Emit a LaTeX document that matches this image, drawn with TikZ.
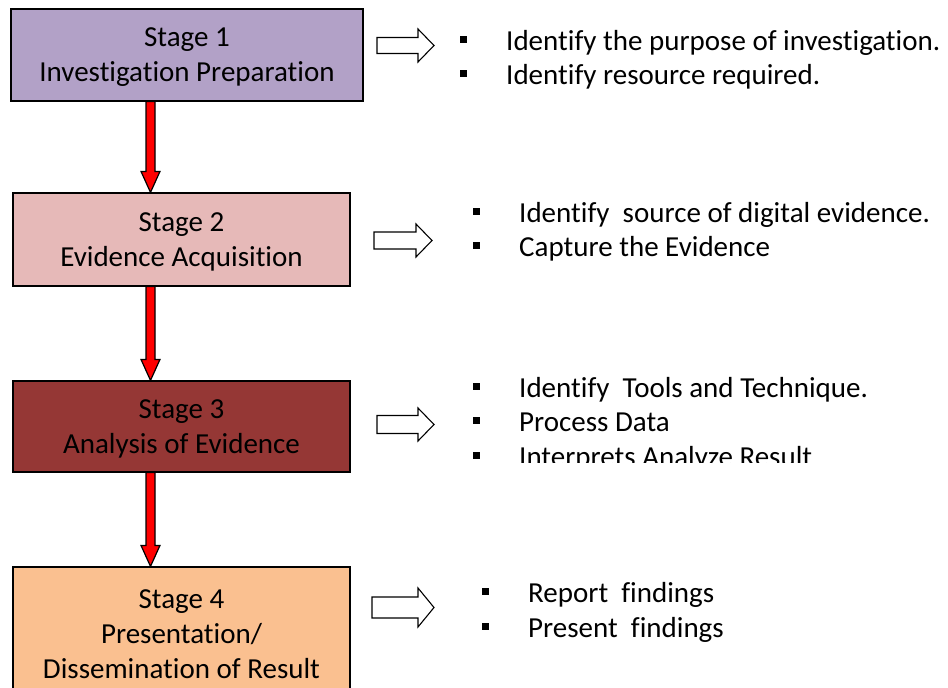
\documentclass[tikz,border=0pt]{standalone}
\usepackage{fontspec}
\setmainfont{Carlito}[RawFeature={-liga;-clig;-calt;-dlig}]
\usetikzlibrary{calc}

\definecolor{prepfill}{HTML}{B2A1C7}
\definecolor{acqfill}{HTML}{E6B9B8}
\definecolor{anafill}{HTML}{953735}
\definecolor{presfill}{HTML}{FAC090}

% square list marker hung to the left of each item
\newcommand{\itemmark}{\llap{\rule[7.5pt]{7pt}{7pt}\hspace{39pt}}}

\begin{document}
\begin{tikzpicture}[x=1pt,y=-1pt,
  stagebox/.style={draw=black, line width=1.2pt, align=center, inner sep=0pt,
    text depth=0pt, font=\fontsize{29}{35}\selectfont},
  listitem/.style={anchor=base west, inner sep=0pt,
    font=\fontsize{29}{35}\selectfont},
  % thick red block arrow between stages
  flowarrow/.style={draw=black, fill=red, line width=1.2pt, line join=miter,
    to path={let \p1=(\tikztostart), \p2=(\tikztotarget) in
      (\x1-4.5pt,\y1) -- (\x1-4.5pt,\y2+21pt) -- (\x1-9.5pt,\y2+21pt) -- (\x1,\y2)
      -- (\x1+9.5pt,\y2+21pt) -- (\x1+4.5pt,\y2+21pt) -- (\x1+4.5pt,\y1) -- cycle}},
  % hollow block arrow pointing to the task lists
  shaft half/.store in=\shafthalf, head half/.store in=\headhalf,
  shaft half=8pt, head half=16.5pt,
  hollowarrow/.style={draw=black, fill=white, line width=1.1pt, line join=miter,
    to path={let \p1=(\tikztostart), \p2=(\tikztotarget) in
      (\x1,\y1+\shafthalf) -- (\x2-16pt,\y1+\shafthalf) -- (\x2-16pt,\y1+\headhalf) -- (\x2,\y1)
      -- (\x2-16pt,\y1-\headhalf) -- (\x2-16pt,\y1-\shafthalf) -- (\x1,\y1-\shafthalf) -- cycle}},
]
\useasboundingbox (0,0) rectangle (948,688);
\clip (0,0) rectangle (948,688);

% stage boxes
\node[stagebox, fill=prepfill, minimum width=352pt, minimum height=92pt] (b1) at (187,55)
  {Stage 1\\Investigation Preparation};
\node[stagebox, fill=acqfill, minimum width=337pt, minimum height=93pt] (b2) at (181.5,239.5)
  {Stage 2\\Evidence Acquisition};
\node[stagebox, fill=anafill, minimum width=337pt, minimum height=91pt] (b3) at (181.5,426.5)
  {Stage 3\\Analysis of Evidence};
\node[stagebox, fill=presfill, minimum width=337pt, minimum height=134pt] (b4) at (181.5,634)
  {Stage 4\\Presentation/\\Dissemination of Result};

% red flow arrows
\coordinate (ax) at (150.5,0);
\draw[flowarrow] (b1.south -| ax) to (b2.north -| ax);
\draw[flowarrow] (b2.south -| ax) to (b3.north -| ax);
\draw[flowarrow] (b3.south -| ax) to (b4.north -| ax);

% hollow arrows
\coordinate (hs1) at (377,45.5);  \coordinate (ht1) at (434,45.5);
\coordinate (hs2) at (374,240.5); \coordinate (ht2) at (432,240.5);
\coordinate (hs3) at (377,424.5); \coordinate (ht3) at (434,424.5);
\coordinate (hs4) at (372,607.5); \coordinate (ht4) at (434,607.5);
\draw[hollowarrow] (hs1) to (ht1);
\draw[hollowarrow, shaft half=8.5pt] (hs2) to (ht2);
\draw[hollowarrow, shaft half=9pt] (hs3) to (ht3);
\draw[hollowarrow, shaft half=10.5pt, head half=19.5pt] (hs4) to (ht4);

% task lists
\node[listitem] (p1a) at (506,50) {\itemmark Identify the purpose of investigation.};
\node[listitem] (p1b) at (506,84) {\itemmark Identify resource required.};
\node[listitem] (p2a) at (519,222) {\itemmark Identify~ source of digital evidence.};
\node[listitem] (p2b) at (519,256) {\itemmark Capture the Evidence};
\node[listitem] (p3a) at (519,397) {\itemmark Identify~ Tools and Technique.};
\node[listitem] (p3b) at (519,431) {\itemmark Process Data};
\begin{scope}
  \clip (0,0) rectangle (948,462);
  \node[listitem] (p3c) at (519,466) {\itemmark Interprets Analyze Result};
\end{scope}
\node[listitem] (p4a) at (528,602) {\itemmark Report~ findings};
\node[listitem] (p4b) at (528,637) {\itemmark Present~ findings};
\end{tikzpicture}
\end{document}
